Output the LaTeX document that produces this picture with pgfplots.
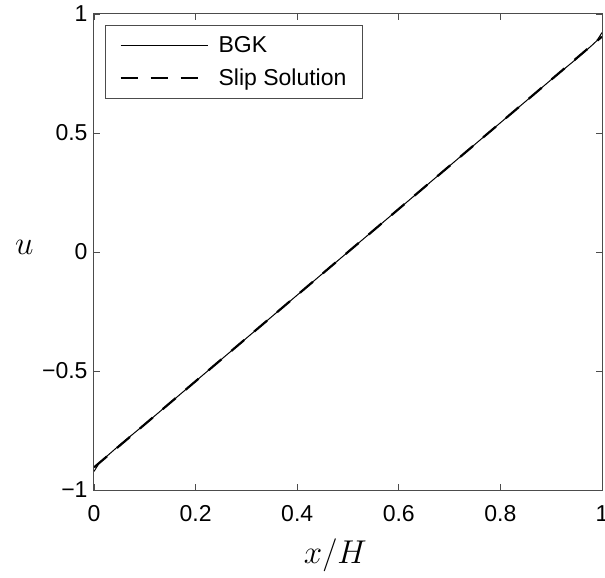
\RequirePackage{fix-cm}
\documentclass[border=0pt]{standalone}
\usepackage{fontspec}
\setmainfont{Liberation Sans}
\usepackage{pgfplots}
\pgfplotsset{compat=1.18}
\begin{document}
\begin{tikzpicture}
\begin{axis}[
  scale only axis, width=508bp, height=476bp,
  xmin=0, xmax=1, ymin=-1, ymax=1,
  xtick={0,0.2,0.4,0.6,0.8,1},
  xticklabels={0,0.2,0.4,0.6,0.8,1},
  ytick={-1,-0.5,0,0.5,1},
  yticklabels={−1,−0.5,0,0.5,1},
  tick align=inside, major tick length=6bp,
  tick style={black!70, line width=0.8bp},
  axis line style={black!70, line width=1bp},
  ticklabel style={font=\fontsize{23bp}{27bp}\selectfont},
  xticklabel style={yshift=-12bp},
  yticklabel style={xshift=-3bp},
  xlabel={$x/H$},
  ylabel={$u$},
  label style={font=\fontsize{33bp}{38bp}\selectfont},
  xlabel style={at={(rel axis cs:0.475,-0.138)}, anchor=center},
  ylabel style={rotate=-90, at={(rel axis cs:-0.137,0.51)}, anchor=center},
  legend style={at={(rel axis cs:0.0217,0.977)}, anchor=north west,
    draw=black!70, line width=0.8bp, font=\fontsize{23bp}{27bp}\selectfont,
    inner xsep=14bp, inner ysep=9bp, row sep=11bp},
  legend cell align=left,
  legend image code/.code={\draw[#1] (0bp,0bp) -- (87bp,0bp);},
]
\addplot[black, line width=1bp] coordinates {
(0,-0.922) (0.01,-0.888) (0.02,-0.868) (0.05,-0.812) (0.1,-0.724) (0.2,-0.543)
(0.3,-0.362) (0.4,-0.181) (0.5,0) (0.6,0.181) (0.7,0.362) (0.8,0.543)
(0.9,0.724) (0.95,0.812) (0.98,0.868) (0.99,0.888) (1,0.922)};
\addlegendentry{\hspace{8bp}BGK}
\addplot[black, line width=2.2bp, dash pattern=on 17bp off 13bp] coordinates {
(0,-0.905) (1,0.905)};
\addlegendentry{\hspace{8bp}Slip Solution}
\coordinate (BL) at (rel axis cs:0,0);
\coordinate (TR) at (rel axis cs:1,1);
\end{axis}
\path (BL) ++(-94bp,-88bp) coordinate (a);
\path (TR) ++(3bp,14bp) coordinate (b);
\pgfresetboundingbox
\path[use as bounding box] (a) rectangle (b);
\end{tikzpicture}
\end{document}
